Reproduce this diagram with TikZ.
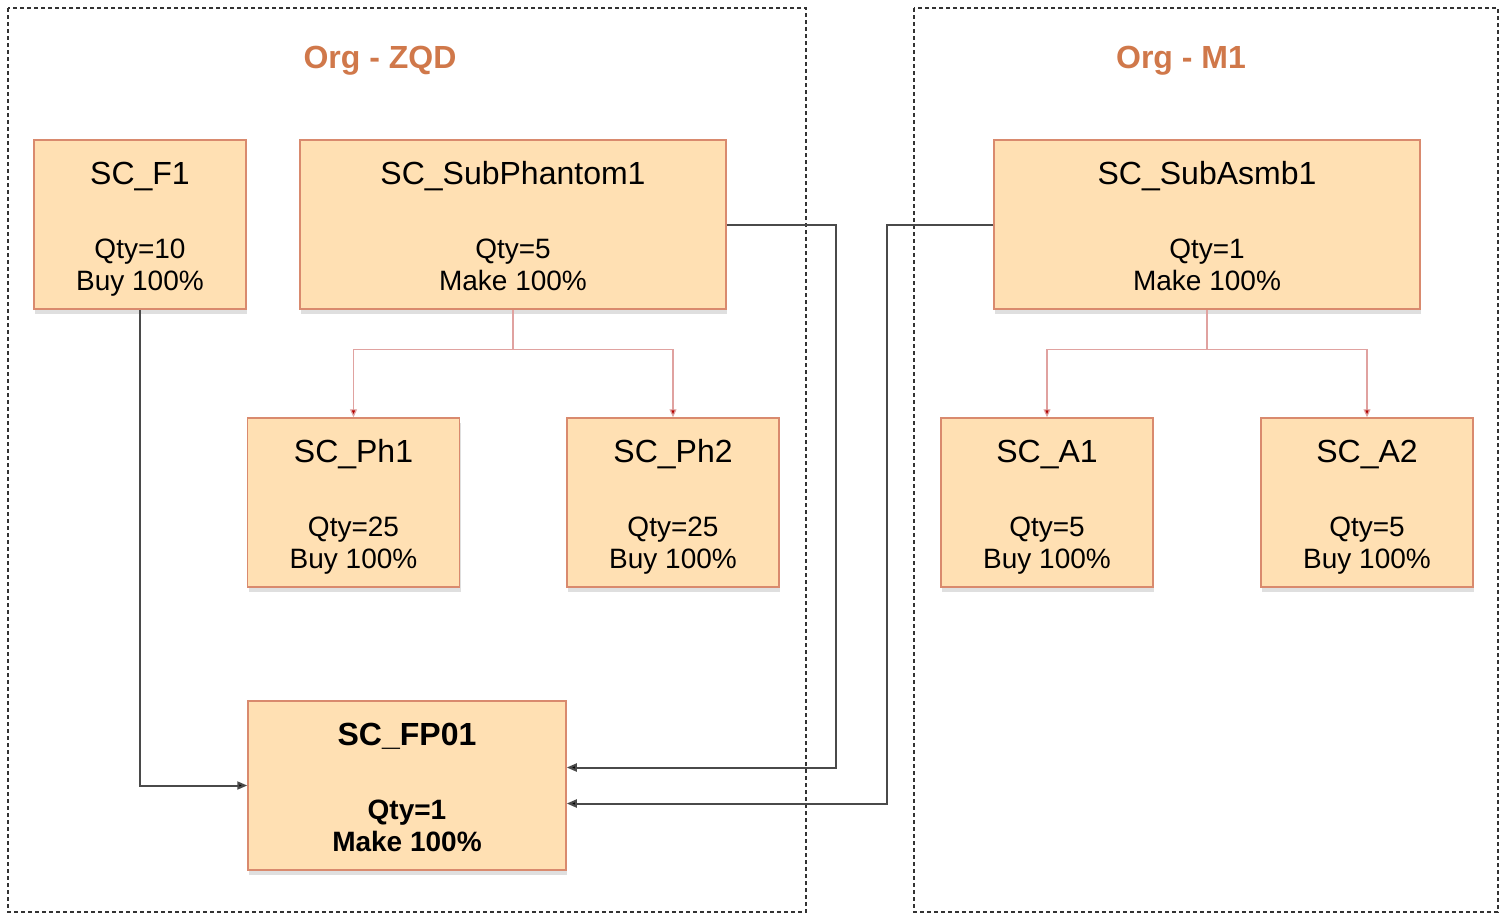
\documentclass[tikz,border=0pt]{standalone}
\usepackage{fontspec}
\setmainfont{Liberation Sans}
\usetikzlibrary{arrows.meta,shadows}
\definecolor{boxfill}{HTML}{FFE0B3}
\definecolor{boxline}{HTML}{D98A6E}
\definecolor{orgtitle}{HTML}{D0784A}
\definecolor{treeline}{HTML}{E0A2A0}
\definecolor{feedline}{HTML}{4A4A4A}
\newcommand{\partbox}[3]{\rule{0pt}{18.5pt}{\fontsize{16}{19}\selectfont #1}\\[21pt]#2\\#3\rule[-6pt]{0pt}{6pt}}

\begin{document}
\begin{tikzpicture}[x=0.5pt,y=-0.5pt,
		part/.style={draw=boxline, line width=0.75pt, fill=boxfill, inner sep=0pt,
			minimum width=106pt, minimum height=84.5pt, align=center,
			font=\fontsize{14}{16}\selectfont,
			drop shadow={opacity=0.25, shadow xshift=0.5pt, shadow yshift=-2.5pt}},
		wide/.style={part, minimum width=213pt},
		orgframe/.style={draw=black!80, line width=0.75pt, dash pattern=on 2pt off 1.5pt},
		orgname/.style={text=orgtitle, font=\fontsize{16}{19}\selectfont\bfseries},
		tree/.style={draw=treeline, line width=0.6pt, -{Triangle[length=4pt,width=3.5pt,fill=red!70!black]}},
		feed/.style={draw=feedline, line width=1pt, -{Triangle[length=5pt,width=4pt,fill=black]}}]
		%%%%% START %%%%%
		
		\useasboundingbox (0, 0) rectangle (1502, 916);
		
		\draw[orgframe] (8, 8) rectangle (806, 912);
		\draw[orgframe] (914, 8) rectangle (1498, 912);
		\node[orgname] (zqd) at (380, 61) {Org - ZQD};
		\node[orgname] (mone) at (1181, 61) {Org - M1};
		
		\node[part] (f1) at (140, 224.5) {\partbox{SC\_F1}{Qty=10}{Buy 100\%}};
		\node[wide] (phantom) at (513, 224.5) {\partbox{SC\_SubPhantom1}{Qty=5}{Make 100\%}};
		\node[wide] (asmb) at (1207, 224.5) {\partbox{SC\_SubAsmb1}{Qty=1}{Make 100\%}};
		
		\node[part] (ph1) at (353.5, 502.5) {\partbox{SC\_Ph1}{Qty=25}{Buy 100\%}};
		\node[part] (ph2) at (673, 502.5) {\partbox{SC\_Ph2}{Qty=25}{Buy 100\%}};
		\node[part] (a1) at (1047, 502.5) {\partbox{SC\_A1}{Qty=5}{Buy 100\%}};
		\node[part] (a2) at (1367, 502.5) {\partbox{SC\_A2}{Qty=5}{Buy 100\%}};
		
		\node[part, minimum width=159pt, font=\fontsize{14}{16}\selectfont\bfseries] (fp) at (407, 785.5) {\partbox{SC\_FP01}{Qty=1}{Make 100\%}};
		
		\draw[tree] (phantom.south) -- ++(0, 40) -| (ph1.north);
		\draw[tree] (phantom.south) -- ++(0, 40) -| (ph2.north);
		\draw[tree] (asmb.south) -- ++(0, 40) -| (a1.north);
		\draw[tree] (asmb.south) -- ++(0, 40) -| (a2.north);
		
		\draw[feed] (f1.south) |- (fp.west);
		\draw[feed] (phantom.east) -- ++(109, 0) |- ([yshift=9pt]fp.east);
		\draw[feed] (asmb.west) -- ++(-106, 0) |- ([yshift=-9pt]fp.east);
		
		%%%%% END %%%%%
	\end{tikzpicture}
\end{document}
